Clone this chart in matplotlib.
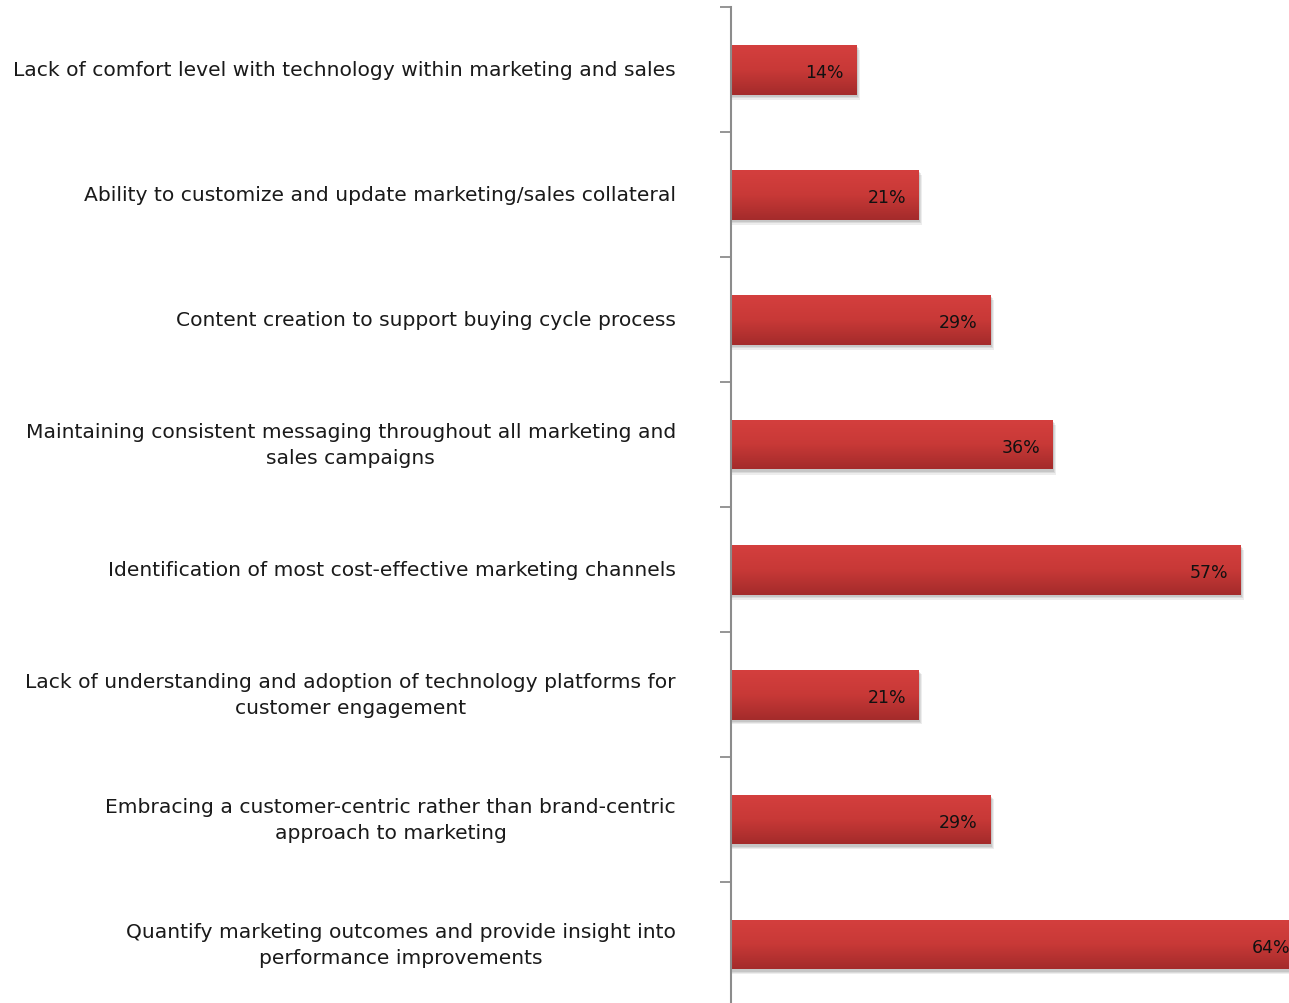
import numpy as np
import matplotlib.pyplot as plt
from matplotlib.colors import LinearSegmentedColormap
from matplotlib.patches import Rectangle

categories = [
    'Lack of comfort level with technology within marketing and sales',
    'Ability to customize and update marketing/sales collateral',
    'Content creation to support buying cycle process',
    'Maintaining consistent messaging throughout all marketing and\nsales campaigns',
    'Identification of most cost-effective marketing channels',
    'Lack of understanding and adoption of technology platforms for\ncustomer engagement',
    'Embracing a customer-centric rather than brand-centric\napproach to marketing',
    'Quantify marketing outcomes and provide insight into\nperformance improvements',
]
values = [14, 21, 29, 36, 57, 21, 29, 64]

W, H = 1289, 1004
fig = plt.figure(figsize=(W / 100, H / 100), dpi=100)
ax = fig.add_axes([731 / W, (H - 1008) / H, 558 / W, 1000 / H])

bar_h = 0.4
red = LinearSegmentedColormap.from_list('red', ['#d43f3e', '#c83937', '#a42b2b'])
grad = np.linspace(0, 1, 64).reshape(-1, 1)

for i, v in enumerate(values):
    # soft drop shadow
    for k, a in enumerate([0.10, 0.12, 0.15]):
        off = 0.15 + 0.12 * (2 - k)
        ax.add_patch(Rectangle((0, i - bar_h / 2 + 0.02 + 0.01 * (2 - k)), v + off, bar_h,
                               facecolor='#555555', alpha=a, lw=0, zorder=1, clip_on=False))
    rect = Rectangle((0, i - bar_h / 2), v, bar_h, facecolor='none', lw=0, zorder=2)
    ax.add_patch(rect)
    im = ax.imshow(grad, cmap=red, aspect='auto', origin='upper',
                   extent=[0, v, i + bar_h / 2, i - bar_h / 2], zorder=2)
    im.set_clip_path(rect)
    ax.text(v - 1.4, i + 0.02, f'{v}%', ha='right', va='center', fontsize=12.5,
            family='DejaVu Sans', color='#111111', zorder=3, clip_on=False)
    ax.text(-55 / 558, i, categories[i], transform=ax.get_yaxis_transform(),
            ha='right', va='center', multialignment='center', fontsize=14.6,
            family='DejaVu Sans', color='#1a1a1a', linespacing=1.42)

ax.set_xlim(0, 62.4)
ax.set_ylim(len(values) - 0.5, -0.5)
ax.set_xticks([])
ax.set_yticks(np.arange(-0.5, len(values), 1.0))
ax.set_yticklabels([])
ax.tick_params(axis='y', direction='out', length=8, width=1.3, color='#8c8c8c')
for s in ['top', 'right', 'bottom']:
    ax.spines[s].set_visible(False)
ax.spines['left'].set_color('#8c8c8c')
ax.spines['left'].set_linewidth(1.5)

fig.savefig('out.png', dpi=100)
